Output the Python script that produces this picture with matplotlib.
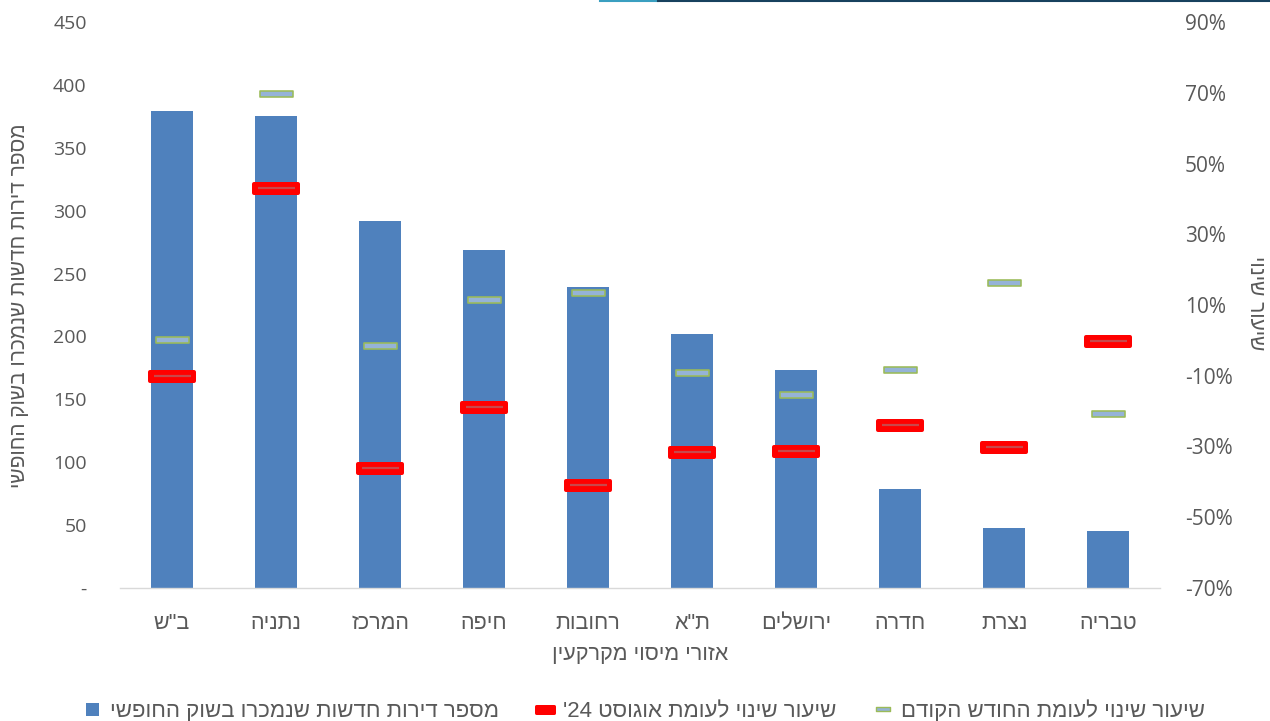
import re
import matplotlib
matplotlib.use("Agg")
import matplotlib.pyplot as plt
from matplotlib.path import Path
from matplotlib.lines import Line2D

# ---- data ----
regions = ['ב"ש', 'נתניה', 'המרכז', 'חיפה', 'רחובות', 'ת"א', 'ירושלים', 'חדרה', 'נצרת', 'טבריה']
units_sold = [379, 375, 292, 269, 239, 202, 173, 79, 48, 45]
chg_vs_aug24 = [-10.1, 43.1, -36.1, -18.8, -40.9, -31.6, -31.3, -23.9, -30.1, -0.2]
chg_vs_prev = [0.1, 69.6, -1.6, 11.4, 13.4, -9.2, -15.4, -8.4, 16.2, -20.8]
left_ticks = [0, 50, 100, 150, 200, 250, 300, 350, 400, 450]
right_ticks = [-70, -50, -30, -10, 10, 30, 50, 70, 90]

label_units = 'מספר דירות חדשות שנמכרו בשוק החופשי'
label_aug = "שיעור שינוי לעומת אוגוסט 24'"
label_prev = 'שיעור שינוי לעומת החודש הקודם'
xlabel = 'אזורי מיסוי מקרקעין'
ylabel_right = 'שיעור שינוי'


def vis(s):
    """Visual (left-to-right) order for a right-to-left string."""
    r = s[::-1]
    return re.sub(r'\d+', lambda m: m.group(0)[::-1], r)


plt.rcParams['font.family'] = ['Open Sans', 'DejaVu Sans']
HEB = ['Liberation Sans', 'DejaVu Sans']
TXT = '#595959'
BLUE = '#4F81BD'
PX = 0.72  # points per pixel at dpi 100

fig = plt.figure(figsize=(12.7, 7.21), dpi=100)
ax = fig.add_axes([120 / 1270, 1 - 588 / 721, 1040 / 1270, 566 / 721])
ax2 = ax.twinx()

x = list(range(len(regions)))
ax.bar(x, units_sold, width=0.4, color=BLUE, zorder=2)
ax.set_xlim(-0.5, len(regions) - 0.5)
ax.set_ylim(0, 450)
ax.set_yticks(left_ticks)
ax.set_yticklabels(['-' if v == 0 else str(v) for v in left_ticks])
ax.set_xticks(x)
ax.set_xticklabels([vis(r) for r in regions], family=HEB)

ax2.set_ylim(-70, 90)
ax2.set_yticks(right_ticks)
ax2.set_yticklabels([f'{v}%' for v in right_ticks])


def rect_marker(w, h):
    verts = [(-w / 2, -h / 2), (w / 2, -h / 2), (w / 2, h / 2), (-w / 2, h / 2), (-w / 2, -h / 2)]
    return Path(verts, [Path.MOVETO, Path.LINETO, Path.LINETO, Path.LINETO, Path.CLOSEPOLY])


red_m = rect_marker(44, 9)
grn_m = rect_marker(33, 6)

ax2.plot(x, chg_vs_aug24, ls='none', marker=red_m, markersize=44 * PX,
         markerfacecolor='#FF0000', markeredgecolor='#FF0000', markeredgewidth=4 * PX,
         solid_joinstyle='round', zorder=3)
ax2.plot(x, chg_vs_aug24, ls='none', marker='_', markersize=37 * PX,
         markeredgewidth=2.2 * PX, color='#C9474A', zorder=4)
ax2.plot(x, chg_vs_prev, ls='none', marker=grn_m, markersize=33 * PX,
         markerfacecolor='#95B3D7', markeredgecolor='#9BBB59', markeredgewidth=1.6 * PX,
         zorder=3)

for a in (ax, ax2):
    for s in a.spines.values():
        s.set_visible(False)
    a.tick_params(length=0, colors=TXT)
ax.spines['bottom'].set_visible(True)
ax.spines['bottom'].set_color('#D9D9D9')
ax.spines['bottom'].set_linewidth(1.0)
ax.tick_params(axis='y', pad=24, labelsize=14)
ax.tick_params(axis='x', pad=18, labelsize=15.5)
ax2.tick_params(axis='y', pad=18, labelsize=15)

fig.text(640 / 1270, 1 - 655 / 721, vis(xlabel), ha='center', va='center',
         fontsize=15.5, color=TXT, family=HEB)
fig.text(20 / 1270, 1 - 306 / 721, vis(label_units), ha='center', va='center',
         rotation=90, fontsize=15, color=TXT, family=HEB)
fig.text(1255 / 1270, 1 - 303 / 721, vis(ylabel_right), ha='center', va='center',
         rotation=-90, fontsize=15, color=TXT, family=HEB)

# legend
h_bar = Line2D([], [], ls='none', marker='s', markersize=13 * PX,
               markerfacecolor=BLUE, markeredgecolor=BLUE, markeredgewidth=0)
h_red = Line2D([], [], ls='none', marker=rect_marker(18, 7), markersize=18 * PX,
               markerfacecolor='#FF0000', markeredgecolor='#FF0000',
               markeredgewidth=3 * PX, solid_joinstyle='round')
h_grn = Line2D([], [], ls='none', marker=rect_marker(14, 4), markersize=14 * PX,
               markerfacecolor='#95B3D7', markeredgecolor='#9BBB59', markeredgewidth=1.4 * PX)
leg = fig.legend([h_bar, h_red, h_grn], [vis(label_units), vis(label_aug), vis(label_prev)],
                 loc='center', bbox_to_anchor=(643 / 1270, 1 - 711 / 721), ncol=3, frameon=False,
                 prop={'family': HEB, 'size': 16}, handlelength=1.0, handleheight=0.8,
                 handletextpad=0.3, columnspacing=1.6, labelcolor=TXT, borderpad=0)

# thin rule along the top edge
fig.add_artist(Line2D([600 / 1270, 658 / 1270], [0.999, 0.999], color='#3A9FC0', lw=1.5))
fig.add_artist(Line2D([658 / 1270, 1.0], [0.999, 0.999], color='#17415E', lw=1.5))

fig.savefig('out.png', dpi=100)
